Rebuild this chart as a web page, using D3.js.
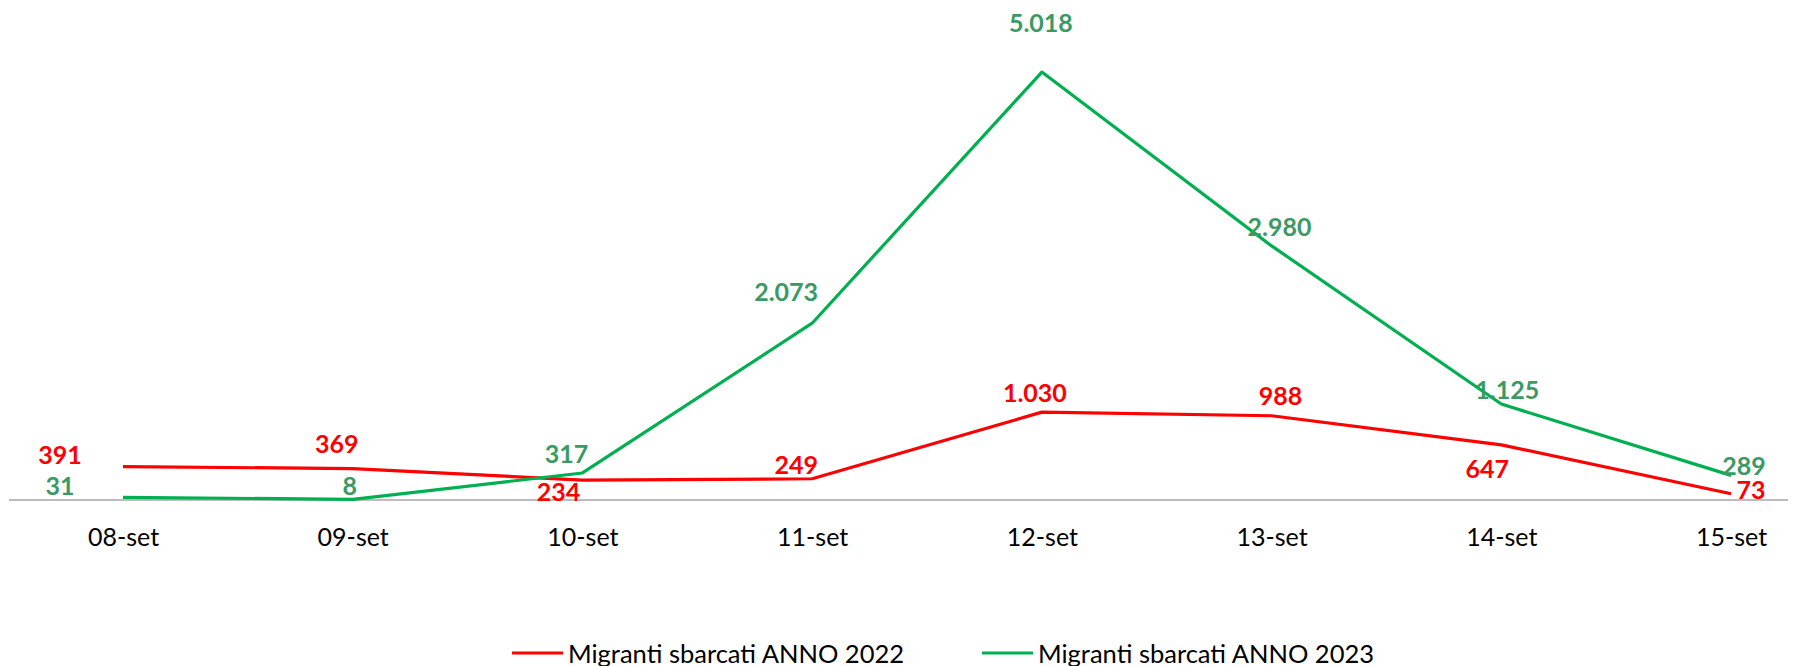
<!DOCTYPE html>
<html>
<head>
<meta charset="utf-8">
<script src="https://cdn.jsdelivr.net/npm/d3@7"></script>
<style>
  body { margin: 0; background: #fff; }
  svg { display: block; font-family: Lato, "Open Sans", sans-serif; }
</style>
</head>
<body>
<svg id="chart" width="1820" height="666"></svg>
<script>
// data
const days = ["08-set", "09-set", "10-set", "11-set", "12-set", "13-set", "14-set", "15-set"];
const sbarcati2022 = [391, 369, 234, 249, 1030, 988, 647, 73];
const sbarcati2023 = [31, 8, 317, 2073, 5018, 2980, 1125, 289];
const seriesNames = ["Migranti sbarcati ANNO 2022", "Migranti sbarcati ANNO 2023"];

// label nudges (px from point), hand placed like in the original
const offs2022 = [[-63, -13], [-16, -26], [-24, 11], [-16, -15], [-7, -20], [9, -21], [-14, 23], [20, -5]];
const offs2023 = [[-63, -12], [-3, -14], [-16, -20], [-26, -32], [-1, -50], [8, -20], [6, -15], [13, -10]];

const lineColors = ["#FF0000", "#00B050"];
const labelColors = ["#FF0000", "#3A9A63"];

const svg = d3.select("#chart");

const x = d3.scalePoint().domain(days).range([123, 1731]);
const y = d3.scaleLinear().domain([0, 6000]).range([500, -11.7]);

// axis line
svg.append("line")
  .attr("x1", 9).attr("x2", 1788)
  .attr("y1", y(0)).attr("y2", y(0))
  .attr("stroke", "#A6A6A6")
  .attr("stroke-width", 1.5);

// x labels
const xAxis = svg.append("g")
  .attr("transform", `translate(0, ${y(0)})`)
  .call(d3.axisBottom(x).tickSize(0).tickPadding(28));
xAxis.select(".domain").remove();
xAxis.selectAll("text")
  .attr("font-family", "Lato, sans-serif")
  .attr("font-size", 25)
  .attr("fill", "#000");

const fmt = d3.formatLocale({ decimal: ",", thousands: ".", grouping: [3], currency: ["€", ""] }).format(",d");

const line = d3.line()
  .x((d, i) => x(days[i]))
  .y((d) => y(d));

const allSeries = [sbarcati2022, sbarcati2023];
const allOffs = [offs2022, offs2023];

allSeries.forEach((vals, s) => {
  svg.append("path")
    .datum(vals)
    .attr("fill", "none")
    .attr("stroke", lineColors[s])
    .attr("stroke-width", 3.2)
    .attr("stroke-linejoin", "round")
    .attr("d", line);
});

allSeries.forEach((vals, s) => {
  svg.append("g")
    .selectAll("text")
    .data(vals)
    .join("text")
    .attr("x", (d, i) => x(days[i]) + allOffs[s][i][0])
    .attr("y", (d, i) => y(d) + allOffs[s][i][1])
    .attr("text-anchor", "middle")
    .attr("dominant-baseline", "central")
    .attr("font-size", 25)
    .attr("font-weight", "bold")
    .attr("fill", labelColors[s])
    .text((d) => fmt(d));
});

// legend
const legendX = [512, 982];
seriesNames.forEach((name, s) => {
  const g = svg.append("g").attr("transform", `translate(${legendX[s]}, 653)`);
  g.append("line")
    .attr("x1", 0).attr("x2", 51)
    .attr("stroke", lineColors[s])
    .attr("stroke-width", 3.2);
  g.append("text")
    .attr("x", 56)
    .attr("dominant-baseline", "central")
    .attr("font-size", 25.5)
    .attr("fill", "#000")
    .text(name);
});
</script>
</body>
</html>
